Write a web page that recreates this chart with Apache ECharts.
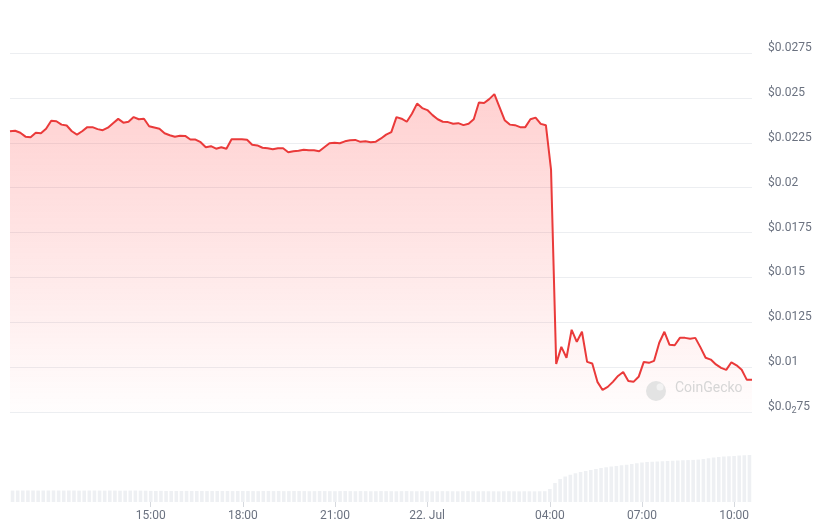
<!DOCTYPE html>
<html>
<head>
<meta charset="utf-8">
<script src="https://cdn.jsdelivr.net/npm/echarts/dist/echarts.min.js"></script>
<style>
html,body{margin:0;padding:0;background:#fff;}
#chart{width:834px;height:532px;}
</style>
</head>
<body>
<div id="chart"></div>
<script>
// 10-minute samples from 21 Jul 10:30 to 22 Jul 10:30
const startMinute = 630;
const stepMinutes = 10;

const prices = [
  0.02314,0.02317,0.02306,0.02284,0.02281,0.02306,0.02303,0.02328,0.02373,0.02370,
  0.02351,0.02346,0.02314,0.02295,0.02314,0.02337,0.02337,0.02326,0.02320,0.02334,
  0.02359,0.02383,0.02362,0.02367,0.02393,0.02381,0.02384,0.02342,0.02335,0.02328,
  0.02303,0.02292,0.02283,0.02289,0.02288,0.02268,0.02268,0.02253,0.02225,0.02231,
  0.02217,0.02225,0.02217,0.02270,0.02270,0.02269,0.02267,0.02239,0.02235,0.02222,
  0.02219,0.02214,0.02219,0.02219,0.02197,0.02203,0.02205,0.02211,0.02208,0.02208,
  0.02203,0.02225,0.02247,0.02250,0.02247,0.02258,0.02264,0.02266,0.02255,0.02258,
  0.02253,0.02256,0.02274,0.02295,0.02309,0.02393,0.02384,0.02367,0.02412,0.02468,
  0.02443,0.02432,0.02404,0.02381,0.02367,0.02365,0.02356,0.02359,0.02348,0.02356,
  0.02381,0.02474,0.02471,0.02493,0.02521,0.02448,0.02376,0.02351,0.02348,0.02337,
  0.02337,0.02381,0.02390,0.02355,0.02348,0.02100,0.01018,0.01113,0.01052,0.01208,
  0.01141,0.01197,0.01029,0.01020,0.00918,0.00873,0.00890,0.00918,0.00951,0.00973,
  0.00923,0.00918,0.00946,0.01029,0.01024,0.01035,0.01136,0.01197,0.01124,0.01122,
  0.01163,0.01163,0.01158,0.01163,0.01110,0.01052,0.01042,0.01015,0.00996,0.00985,
  0.01027,0.01010,0.00985,0.00929,0.00930
];

// 24h volume (thousand USD)
const volumes = [
  228,230,229,231,230,228,229,230,231,229,228,230,229,227,228,229,230,228,227,229,228,226,227,228,229,227,226,
  222,221,223,220,219,221,220,222,221,219,
  220,218,219,221,220,219,218,220,221,219,
  218,217,219,220,218,219,217,218,220,219,
  218,216,217,219,218,217,216,218,219,217,
  216,218,217,215,216,218,217,216,215,217,
  218,216,215,217,216,214,215,217,216,215,
  214,216,217,215,214,216,215,214,213,215,
  216,214,213,215,214,213,215,216,
  260,380,460,510,545,575,600,620,640,660,
  680,695,710,720,735,745,760,775,790,800,
  805,810,815,820,825,830,835,838,842,848,
  860,875,890,900,910,915,920,930,935,940
];

const tickLabels = ['15:00','18:00','21:00','00:00','04:00','07:00','10:00'];
const dayLabel = '22. Jul';

function pad(n){ return (n < 10 ? '0' : '') + n; }
const categories = prices.map(function(_, i){
  const m = (startMinute + stepMinutes * i) % 1440;
  return pad(Math.floor(m / 60)) + ':' + pad(m % 60);
});

const chart = echarts.init(document.getElementById('chart'), null, {renderer:'canvas'});
const showTick = function(index, value){ return tickLabels.indexOf(value) >= 0; };
const gray = '#6b7280';

chart.setOption({
  animation: false,
  textStyle: {fontFamily: 'Roboto, sans-serif'},
  grid: [
    {left: 10, right: 82, top: 53, height: 359},
    {left: 10, right: 82, top: 452, height: 50}
  ],
  xAxis: [
    {type: 'category', gridIndex: 0, data: categories, boundaryGap: false, show: false},
    {
      type: 'category', gridIndex: 1, data: categories, boundaryGap: true,
      axisLine: {show: false},
      axisTick: {show: true, alignWithLabel: true, interval: showTick, length: 5, lineStyle: {color: '#d6d9de'}},
      axisLabel: {
        interval: showTick, color: gray, fontSize: 12, margin: 8,
        formatter: function(v){ return v === '00:00' ? dayLabel : v; }
      },
      splitLine: {show: false}
    }
  ],
  yAxis: [
    {
      type: 'value', gridIndex: 0, position: 'right',
      min: 0.0075, max: 0.0275, interval: 0.0025,
      axisLine: {show: false}, axisTick: {show: false},
      splitLine: {lineStyle: {color: '#eceef1', width: 1}},
      axisLabel: {
        margin: 16, color: gray, fontSize: 12, padding: [0, 0, 10, 0],
        formatter: function(v){
          if (Math.abs(v - 0.0075) < 1e-9) return '$0.0{sub|2}75';
          return '$' + (+v.toFixed(4));
        },
        rich: {sub: {fontSize: 9, color: gray, padding: [7, 0, 0, 0]}}
      }
    },
    {type: 'value', gridIndex: 1, min: 0, max: 1000, show: false}
  ],
  series: [
    {
      type: 'bar', xAxisIndex: 1, yAxisIndex: 1, data: volumes,
      itemStyle: {color: '#eef0f3'}, barCategoryGap: '30%', silent: true
    },
    {
      type: 'line', xAxisIndex: 0, yAxisIndex: 0, data: prices,
      symbol: 'none', z: 3,
      lineStyle: {color: '#ea3a3a', width: 2},
      areaStyle: {
        color: new echarts.graphic.LinearGradient(0, 0, 0, 1, [
          {offset: 0, color: 'rgba(255,50,50,0.32)'},
          {offset: 0.6, color: 'rgba(255,50,50,0.14)'},
          {offset: 1, color: 'rgba(255,50,50,0.01)'}
        ])
      }
    }
  ],
  graphic: [
    {type: 'circle', shape: {cx: 656, cy: 391, r: 10}, style: {fill: '#e3e3e3'}, z: 10, silent: true},
    {type: 'circle', shape: {cx: 660, cy: 387, r: 3.5}, style: {fill: '#f2f2f2'}, z: 11, silent: true},
    {type: 'text', x: 675, y: 388, z: 10, silent: true,
     style: {text: 'CoinGecko', fill: '#d6d6d6', font: '14px Roboto, sans-serif', verticalAlign: 'middle'}}
  ]
});
</script>
</body>
</html>
